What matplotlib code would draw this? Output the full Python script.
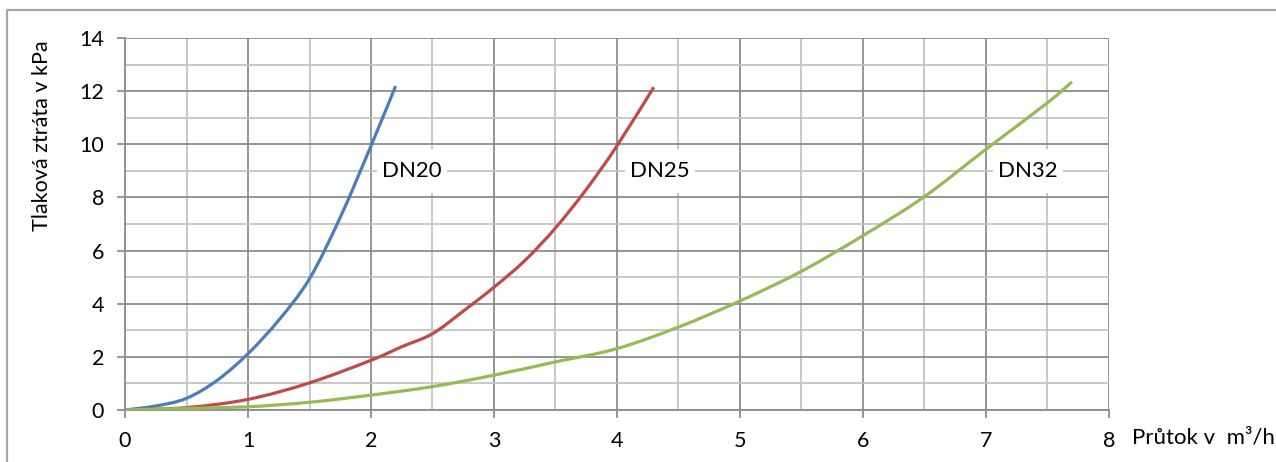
import matplotlib
matplotlib.use("Agg")
import matplotlib.pyplot as plt
from matplotlib.patches import Rectangle, PathPatch
from matplotlib.path import Path

#######################################
#      data       #
#######################################

dn20_x = [0, 0.25, 0.5, 0.75, 1.0, 1.25, 1.5, 1.75, 2.0, 2.2]
dn20_y = [0, 0.15, 0.44, 1.12, 2.12, 3.38, 4.94, 7.25, 9.94, 12.19]

dn25_x = [0, 0.5, 1.0, 1.5, 2.0, 2.25, 2.5, 2.75, 3.0, 3.25, 3.5, 3.75, 4.0, 4.3]
dn25_y = [0, 0.09, 0.40, 1.02, 1.87, 2.38, 2.87, 3.72, 4.62, 5.62, 6.85, 8.30, 9.94, 12.15]

dn32_x = [0, 0.5, 1.0, 1.5, 2.0, 2.5, 3.0, 3.5, 4.0, 4.5, 5.0, 5.5, 6.0, 6.5, 7.0, 7.5, 7.7]
dn32_y = [0, 0.06, 0.12, 0.29, 0.56, 0.88, 1.31, 1.81, 2.31, 3.12, 4.10, 5.22, 6.56, 8.03, 9.81, 11.56, 12.35]

series_names = ['DN20', 'DN25', 'DN32']
label_x = [2.33, 4.35, 7.34]
label_y = [9, 9, 9]
colors = ['#4A7EBB', '#BE4B48', '#98B954']

x_ticks = [0, 1, 2, 3, 4, 5, 6, 7, 8]
y_ticks = [0, 2, 4, 6, 8, 10, 12, 14]


def smooth_path(xs, ys):
    # excel style smoothed line: bezier segments through the points
    verts = [(xs[0], ys[0])]
    codes = [Path.MOVETO]
    n = len(xs)
    for i in range(n - 1):
        x0, y0 = xs[max(i - 1, 0)], ys[max(i - 1, 0)]
        x1, y1 = xs[i], ys[i]
        x2, y2 = xs[i + 1], ys[i + 1]
        x3, y3 = xs[min(i + 2, n - 1)], ys[min(i + 2, n - 1)]
        c1 = (x1 + (x2 - x0) / 6, y1 + (y2 - y0) / 6)
        c2 = (x2 - (x3 - x1) / 6, y2 - (y3 - y1) / 6)
        verts += [c1, c2, (x2, y2)]
        codes += [Path.CURVE4] * 3
    return Path(verts, codes)


#######################################
#      figure                         #
#######################################

plt.rcParams['font.family'] = ['Lato', 'DejaVu Sans']

fig = plt.figure(figsize=(12.76, 4.62), dpi=100)
ax = fig.add_axes([0.098, 0.1126, 0.771, 0.8051])

# outer chart frame (cut at right and bottom like the screenshot)
fig.patches.append(Rectangle((0.0055, -0.05), 1.1, 1.028, transform=fig.transFigure,
                             fill=False, edgecolor='#a6a6a6', linewidth=1.6))

for xs, ys, c in zip([dn20_x, dn25_x, dn32_x], [dn20_y, dn25_y, dn32_y], colors):
    ax.add_patch(PathPatch(smooth_path(xs, ys), facecolor='none', edgecolor=c,
                           linewidth=2.3, capstyle='butt', zorder=3))

for name, lx, ly in zip(series_names, label_x, label_y):
    ax.add_patch(Rectangle((lx - 0.285, ly - 0.83), 0.57, 1.66, facecolor='white',
                           edgecolor='none', zorder=2))
    ax.text(lx, ly, name, ha='center', va='center', fontsize=16, color='black', zorder=4)

ax.set_xlim(0, 8)
ax.set_ylim(0, 14)
ax.set_xticks(x_ticks)
ax.set_yticks(y_ticks)
ax.set_xticks([i + 0.5 for i in x_ticks[:-1]], minor=True)
ax.set_yticks([i + 1 for i in y_ticks[:-1]], minor=True)

ax.grid(which='major', color='#8c8c8c', linewidth=1.3, zorder=0)
ax.grid(which='minor', color='#c4c4c4', linewidth=1.3, zorder=0)
ax.set_axisbelow(True)

for s in ['top', 'right']:
    ax.spines[s].set_visible(False)
for s in ['left', 'bottom']:
    ax.spines[s].set_color('#8c8c8c')
    ax.spines[s].set_linewidth(1.3)

ax.tick_params(which='major', length=6, width=1.3, color='#8c8c8c', labelsize=15.5, pad=9)
ax.tick_params(which='minor', length=0)

fig.text(0.033, 0.706, 'Tlaková ztráta v kPa', rotation=90, ha='center', va='center', fontsize=15.5)
fig.text(0.887, 0.054, 'Průtok v  m³/h', ha='left', va='center', fontsize=16)

fig.savefig('out.png', dpi=100)
